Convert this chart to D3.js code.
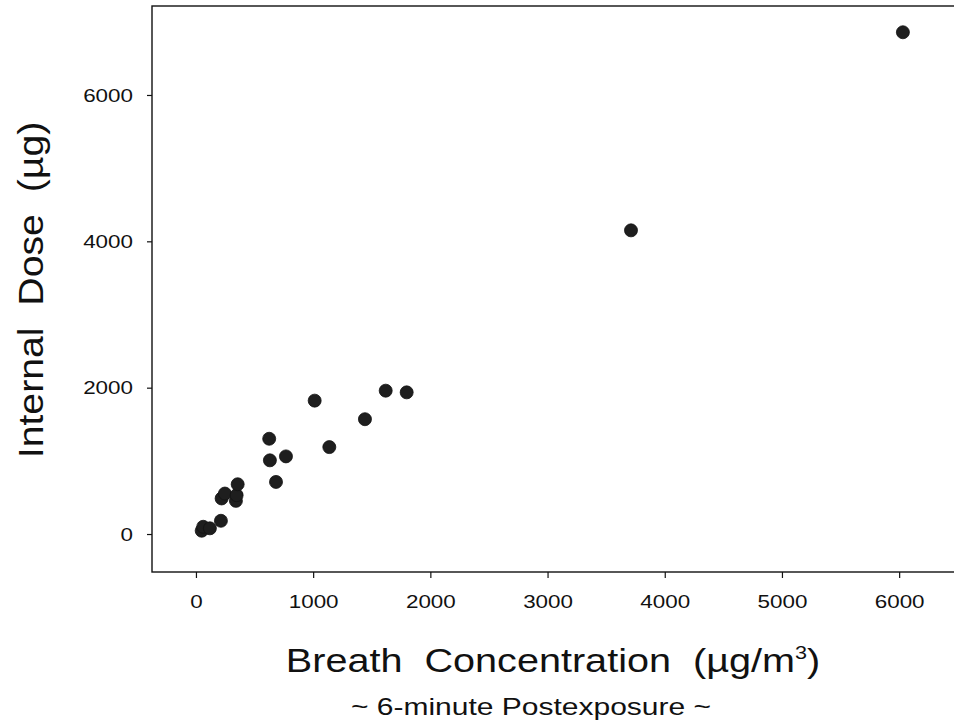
<!DOCTYPE html>
<html>
<head>
<meta charset="utf-8">
<script src="https://cdn.jsdelivr.net/npm/d3@7"></script>
<style>
  body { margin: 0; background: #fff; }
  text { font-family: "Liberation Sans", Arial, sans-serif; fill: #111; }
</style>
</head>
<body>
<svg id="chart" width="954" height="726"></svg>
<script>
// breath concentration (ug/m3) vs internal dose (ug)
var breathConc = [49, 62, 119, 213, 219, 247, 341, 347, 356, 625, 631, 683, 768, 1013, 1138, 1442, 1619, 1798, 3712, 6032];
var internalDose = [45, 99, 78, 181, 486, 553, 453, 531, 680, 1302, 1007, 712, 1061, 1823, 1188, 1569, 1959, 1936, 4150, 6857];
var xTicks = [0, 1000, 2000, 3000, 4000, 5000, 6000];
var yTicks = [0, 2000, 4000, 6000];

var plotL = 152, plotR = 954, plotT = 6, plotB = 572;

var svg = d3.select("#chart");

var x = d3.scaleLinear()
	.domain([-375, 6468])
	.range([plotL, plotR]);

var y = d3.scaleLinear()
	.domain([-519, 7216])
	.range([plotB, plotT]);

var points = breathConc.map(function(d, i) { return {x: d, y: internalDose[i]}; });

// frame (right side runs off the picture)
svg.append("rect")
	.attr("x", plotL)
	.attr("y", plotT)
	.attr("width", plotR + 4 - plotL)
	.attr("height", plotB - plotT)
	.attr("fill", "none")
	.attr("stroke", "#111")
	.attr("stroke-width", 1.4);

var xAxis = svg.append("g")
	.attr("transform", "translate(0," + plotB + ")")
	.call(d3.axisBottom(x).tickValues(xTicks).tickSize(6).tickPadding(17).tickFormat(d3.format("d")));

var yAxis = svg.append("g")
	.attr("transform", "translate(" + plotL + ",0)")
	.call(d3.axisLeft(y).tickValues(yTicks).tickSize(5).tickPadding(19).tickFormat(d3.format("d")));

[xAxis, yAxis].forEach(function(a) {
	a.select(".domain").remove();
	a.selectAll("line").attr("stroke", "#111").attr("stroke-width", 1.2);
	a.selectAll("text")
		.attr("fill", "#111")
		.style("font-size", "19px")
		.style("font-family", "Liberation Sans, Arial, sans-serif");
});

// labels in the scan are a bit wide
xAxis.selectAll("text").attr("transform", "scale(1.18,1)");
yAxis.selectAll("text")
	.attr("x", 0)
	.attr("transform", "translate(-19,0) scale(1.18,1)");

svg.append("g")
	.selectAll("circle")
	.data(points)
	.enter()
	.append("circle")
	.attr("cx", function(d) { return x(d.x); })
	.attr("cy", function(d) { return y(d.y); })
	.attr("r", 6.5)
	.attr("fill", "#1e1e1e")
	.attr("stroke", "#111")
	.attr("stroke-width", 0.8);

var xTitle = svg.append("text")
	.attr("transform", "translate(553,672) scale(1.2,1)")
	.attr("text-anchor", "middle")
	.style("font-size", "33px")
	.style("white-space", "pre");
xTitle.append("tspan").text("Breath  Concentration  (µg/m");
xTitle.append("tspan").attr("dy", -13).style("font-size", "18px").text("3");
xTitle.append("tspan").attr("dy", 13).text(")");

svg.append("text")
	.attr("transform", "translate(531,715) scale(1.25,1)")
	.attr("text-anchor", "middle")
	.style("font-size", "24px")
	.text("~ 6-minute Postexposure ~");

svg.append("text")
	.attr("transform", "translate(43,290) rotate(-90) scale(1.09,1)")
	.attr("text-anchor", "middle")
	.style("font-size", "36px")
	.style("white-space", "pre")
	.text("Internal  Dose  (µg)");
</script>
</body>
</html>
